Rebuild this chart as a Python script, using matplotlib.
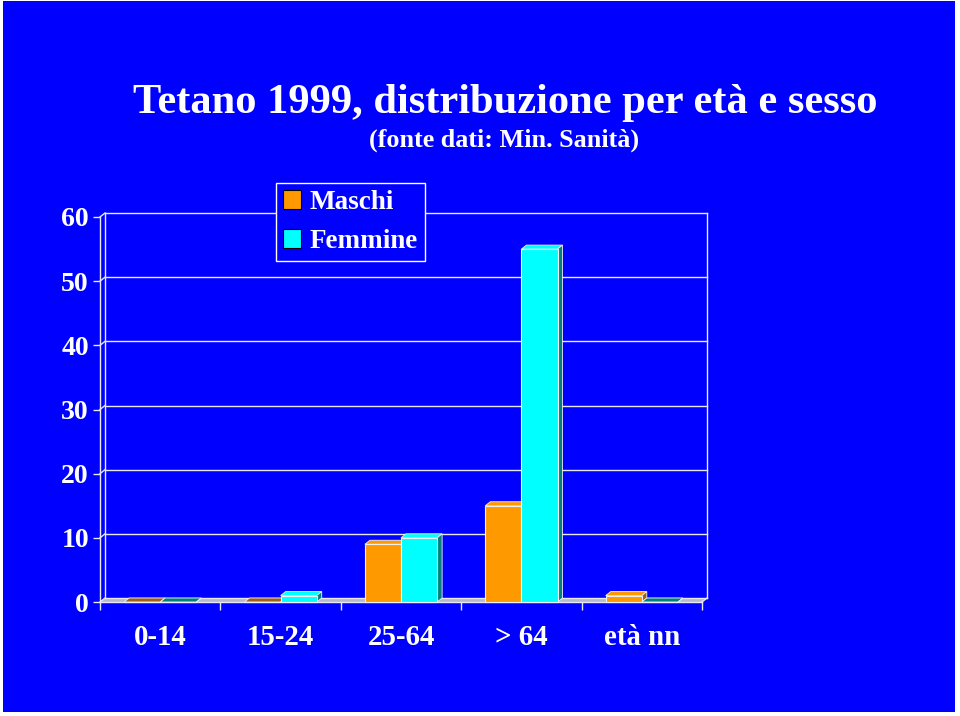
import matplotlib
matplotlib.use('Agg')
import matplotlib.pyplot as plt
from matplotlib.patches import Rectangle, Polygon, Patch

categories = ['0-14', '15-24', '25-64', '> 64', 'età nn']
maschi = [0, 0, 9, 15, 1]
femmine = [0, 1, 10, 55, 0]
series_names = ['Maschi', 'Femmine']
yticks = [0, 10, 20, 30, 40, 50, 60]
title = 'Tetano 1999, distribuzione per età e sesso'
subtitle = '(fonte dati: Min. Sanità)'

plt.rcParams['font.family'] = ['Liberation Serif', 'DejaVu Serif']
plt.rcParams['font.weight'] = 'bold'

W, H = 960, 716
BLUE = '#0000FF'
fig = plt.figure(figsize=(W / 100, H / 100), dpi=100, facecolor='white')
fig.patches.append(Rectangle((3 / W, (H - 712) / H), (955 - 3) / W, (712 - 1) / H,
                             transform=fig.transFigure, facecolor=BLUE,
                             edgecolor='none', zorder=-5))

ax = fig.add_axes([100 / W, (H - 602) / H, 602 / W, (602 - 217) / H])
ax.set_zorder(2)
ax.set_xlim(0, 5)
ax.set_ylim(0, 60)
ax.patch.set_alpha(0)
for s in ax.spines.values():
    s.set_visible(False)

dx = 5 / (602 / 5)
dy = 4 / (385 / 60)
n = len(categories)
GRID = '#E8E8F0'

# floor
ax.add_patch(Polygon([(0, 0), (n, 0), (n + dx, dy), (dx, dy)], closed=True,
                     facecolor='#B8B8D0', edgecolor='none', zorder=1, clip_on=False))
# walls and grid
for v in yticks:
    ax.plot([dx, n + dx], [v + dy, v + dy], color=GRID, lw=1, clip_on=False, zorder=1)
    ax.plot([0, dx], [v, v + dy], color=GRID, lw=1, clip_on=False, zorder=1)
ax.plot([dx, dx], [dy, yticks[-1] + dy], color=GRID, lw=1, clip_on=False, zorder=1)
ax.plot([n + dx, n + dx], [dy, yticks[-1] + dy], color=GRID, lw=1, clip_on=False, zorder=1)
ax.plot([0, 0], [0, yticks[-1]], color=GRID, lw=1, clip_on=False, zorder=1)
ax.plot([0, n], [0, 0], color=GRID, lw=1, clip_on=False, zorder=1)
ax.plot([n, n + dx], [0, dy], color=GRID, lw=1, clip_on=False, zorder=1)

colors = ['#FF9900', '#00FFFF']
sides = ['#A0601A', '#008080']
bw = 0.3
EDGE = '#F0F0F0'
for si, (vals, c, sc) in enumerate(zip([maschi, femmine], colors, sides)):
    xs = [i + 0.5 + (si - 0.5) * bw for i in range(n)]
    ax.bar(xs, vals, width=bw, color=c, edgecolor=EDGE, lw=0.8, zorder=3 + si * 2, clip_on=False)
    for x, h in zip(xs, vals):
        x0, x1 = x - bw / 2, x + bw / 2
        top = Polygon([(x0, h), (x1, h), (x1 + dx, h + dy), (x0 + dx, h + dy)],
                      closed=True, facecolor=c if h > 0 else sc, edgecolor=EDGE, lw=0.6,
                      zorder=2 + si * 2, clip_on=False)
        side = Polygon([(x1, 0), (x1 + dx, dy), (x1 + dx, h + dy), (x1, h)],
                       closed=True, facecolor=sc, edgecolor=EDGE, lw=0.6,
                       zorder=2 + si * 2, clip_on=False)
        ax.add_patch(top)
        ax.add_patch(side)

ax.set_yticks(yticks)
ax.set_yticklabels([str(v) for v in yticks], fontweight='bold')
ax.tick_params(axis='y', colors=GRID, length=5, width=1, labelcolor='white',
               labelsize=20, pad=3)
ax.set_xticks([i + 0.5 for i in range(n)])
ax.set_xticklabels(categories, fontweight='bold')
ax.tick_params(axis='x', which='major', length=0, labelcolor='white', labelsize=20.8, pad=16)
ax.set_xticks(list(range(n + 1)), minor=True)
ax.tick_params(axis='x', which='minor', length=6, width=1, colors=GRID)

handles = [Patch(facecolor=c, edgecolor='black', lw=0.8) for c in colors]
leg = ax.legend(handles, series_names, loc='upper left',
                bbox_to_anchor=(276 / W, 1 - 183 / H), bbox_transform=fig.transFigure,
                frameon=True, fancybox=False, facecolor=BLUE, edgecolor='white',
                framealpha=1, borderaxespad=0, labelcolor='white',
                prop={'family': 'Liberation Serif', 'size': 19.5, 'weight': 'bold'},
                handlelength=0.66, handleheight=0.66, handletextpad=0.32,
                labelspacing=0.52, borderpad=0.26)
leg.get_frame().set_linewidth(1)
leg.set_zorder(10)

fig.text(505 / W, 1 - 103 / H, title, ha='center', va='center', fontsize=30.6,
         fontweight='bold', color='white')
fig.text(504 / W, 1 - 140 / H, subtitle, ha='center', va='center', fontsize=18.8,
         fontweight='bold', color='white')

fig.savefig('out.png', dpi=100, facecolor=fig.get_facecolor())
